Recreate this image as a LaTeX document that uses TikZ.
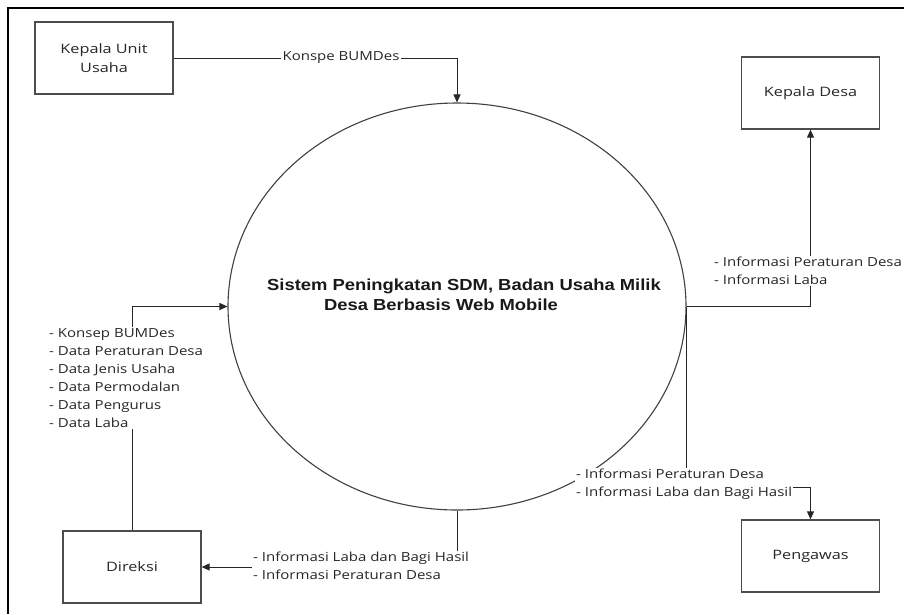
\documentclass[tikz,border=0pt]{standalone}
\usepackage{fontspec}
\setmainfont{Open Sans}
\newfontfamily\lblfont[FakeStretch=1.2]{Open Sans}
\newfontfamily\entfont[FakeStretch=1.25]{Open Sans}
\newfontfamily\titlefont[FakeStretch=1.15]{Liberation Sans}
\usetikzlibrary{arrows.meta,shapes.geometric}
\begin{document}
\begin{tikzpicture}[x=1pt,y=-1pt,
  entity/.style={draw=black!70, line width=1.3pt, minimum width=138pt, minimum height=72pt,
    inner sep=0pt, font=\entfont\fontsize{13}{19}\selectfont, align=center, text=black!85},
  flow/.style={draw=black!85, line width=1pt},
  arr/.style={flow, -{Triangle[width=7pt,length=8pt]}},
  lbl/.style={font=\lblfont\fontsize{12.5}{18}\selectfont, align=left, inner sep=1pt, fill=white, text=black!85}]

\useasboundingbox (0,0) rectangle (904,614);
\draw[line width=1.2pt] (904,8) -- (8,8) -- (8,614);

\node[entity] (kuu) at (104,58) {Kepala Unit\\Usaha};
\node[entity] (kd) at (810.5,93) {Kepala Desa};
\node[entity] (dir) at (132,567) {Direksi};
\node[entity] (peng) at (810.5,556) {Pengawas};
\node[draw=black!75, line width=1.1pt, ellipse, minimum width=458pt, minimum height=407pt, inner sep=0pt] (sys) at (457,306.5) {};
\node[font=\titlefont\bfseries\fontsize{16}{20}\selectfont, align=center, text=black!90] (title) at (464,295)
  {Sistem Peningkatan SDM, Badan Usaha Milik\\Desa Berbasis Web Mobile\hspace*{46pt}};

% Kepala Unit Usaha -> Sistem
\draw[arr] (kuu.east) -| (sys.north);
\node[lbl, inner xsep=2pt] (l1) at (341,58) {Konspe BUMDes};

% Sistem -> Kepala Desa
\draw[arr] (sys.east) -| (kd.south);
\node[lbl, anchor=west] (l2) at (713,271) {- Informasi Peraturan Desa\\- Informasi Laba};

% Sistem -> Pengawas
\coordinate (c1) at (sys.east |- 0,487);
\coordinate (c2) at (peng.north |- 0,487);
\draw[arr] (sys.east) -- (c1) -- (c2) -- (peng.north);
\node[lbl, anchor=west] (l3) at (575,484) {- Informasi Peraturan Desa\\- Informasi Laba dan Bagi Hasil};

% Sistem -> Direksi
\draw[arr] (sys.south) |- (dir.east);
\node[lbl, anchor=west] (l4) at (252,566) {- Informasi Laba dan Bagi Hasil\\- Informasi Peraturan Desa};

% Direksi -> Sistem
\draw[arr] (dir.north) |- (sys.west);
\node[lbl, anchor=west] (l5) at (48,378) {- Konsep BUMDes\\- Data Peraturan Desa\\- Data Jenis Usaha\\- Data Permodalan\\- Data Pengurus\\- Data Laba};
\end{tikzpicture}
\end{document}
